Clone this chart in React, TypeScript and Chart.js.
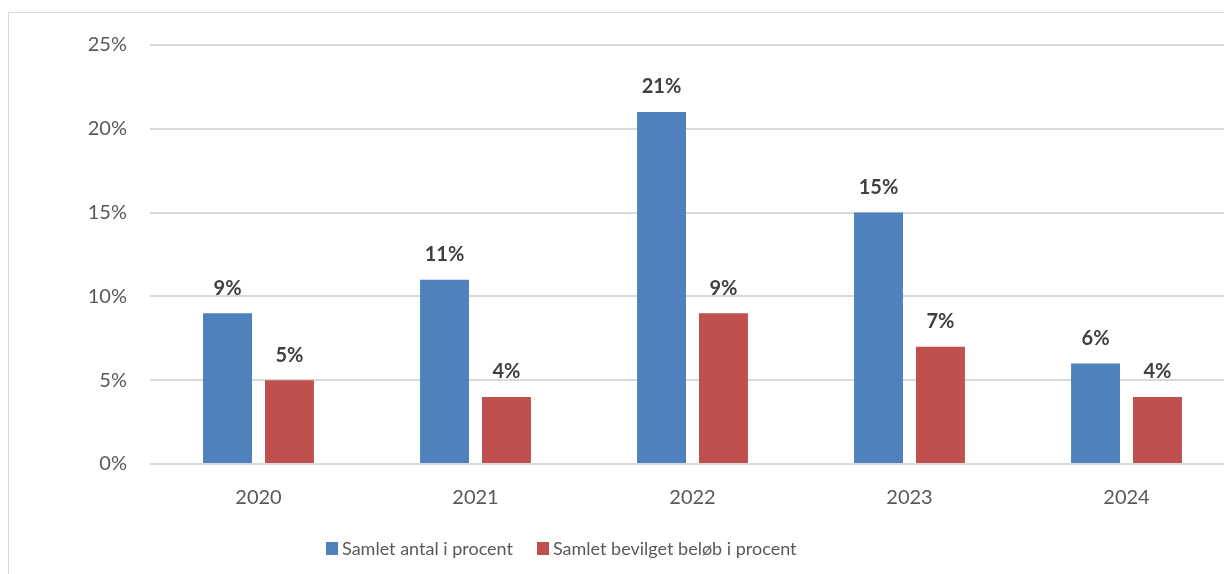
import React, { useEffect, useRef } from "react";
import { Chart, registerables } from "chart.js";

Chart.register(...registerables);

const categories = ["2020", "2021", "2022", "2023", "2024"];
const seriesNames = ["Samlet antal i procent", "Samlet bevilget beløb i procent"];
const antalPct = [9, 11, 21, 15, 6];
const belobPct = [5, 4, 9, 7, 4];
const yTicks = [0, 5, 10, 15, 20, 25];
const seriesColors = ["#4F81BD", "#C0504D"];

const FONT = "Lato, 'Open Sans', sans-serif";
const TEXT = "#595959";

const labelPlugin = {
  id: "barLabels",
  afterDatasetsDraw(chart: any) {
    const ctx = chart.ctx;
    ctx.save();
    ctx.font = `bold 20px ${FONT}`;
    ctx.fillStyle = "#404040";
    ctx.textAlign = "center";
    ctx.textBaseline = "middle";
    chart.data.datasets.forEach((ds: any, i: number) => {
      chart.getDatasetMeta(i).data.forEach((el: any, j: number) => {
        ctx.fillText(`${ds.data[j]}%`, el.x, el.y - 25);
      });
    });
    ctx.restore();
  },
};

export default function App() {
  const ref = useRef<HTMLCanvasElement>(null);

  useEffect(() => {
    if (!ref.current) return;
    const chart = new Chart(ref.current, {
      type: "bar",
      data: {
        labels: categories,
        datasets: [
          { label: seriesNames[0], data: antalPct, backgroundColor: seriesColors[0] },
          { label: seriesNames[1], data: belobPct, backgroundColor: seriesColors[1] },
        ],
      },
      options: {
        responsive: false,
        animation: false,
        layout: { padding: { top: 45, right: 5, left: 0, bottom: 0 } },
        datasets: {
          bar: { categoryPercentage: 0.571, barPercentage: 0.79 },
        },
        plugins: {
          legend: { display: false },
          tooltip: { enabled: false },
        },
        scales: {
          x: {
            grid: { display: false },
            border: { display: false },
            ticks: { color: TEXT, font: { family: FONT, size: 20 }, padding: 14 },
            afterFit: (s: any) => {
              s.height = 574 - 464;
            },
          },
          y: {
            min: yTicks[0],
            max: yTicks[yTicks.length - 1],
            grid: { color: "#d9d9d9", lineWidth: 2, drawTicks: false },
            border: { display: false },
            ticks: {
              stepSize: 5,
              color: TEXT,
              font: { family: FONT, size: 20 },
              padding: 23,
              callback: (v: any) => `${v}%`,
            },
            afterFit: (s: any) => {
              s.width = 150;
            },
          },
        },
      },
      plugins: [labelPlugin],
    });
    return () => chart.destroy();
  }, []);

  return (
    <div
      style={{
        position: "fixed",
        left: 0,
        top: 0,
        width: 1224,
        height: 574,
        overflow: "hidden",
        background: "#fff",
      }}
    >
      <div
        style={{
          position: "absolute",
          left: 8,
          top: 12,
          width: 1400,
          height: 700,
          border: "1px solid #d9d9d9",
        }}
      />
      <canvas
        ref={ref}
        width={1240}
        height={574}
        style={{ position: "absolute", left: 0, top: 0, display: "block" }}
      />
      <div
        style={{
          position: "absolute",
          left: 326,
          top: 536,
          display: "flex",
          alignItems: "center",
          fontFamily: FONT,
          fontSize: 18,
          color: TEXT,
          whiteSpace: "nowrap",
          lineHeight: "24px",
        }}
      >
        {seriesNames.map((n, i) => (
          <div key={n} style={{ display: "flex", alignItems: "center", marginRight: i === 0 ? 24 : 0 }}>
            <span style={{ width: 12, height: 13, background: seriesColors[i], marginRight: 4, display: "inline-block" }} />
            <span>{n}</span>
          </div>
        ))}
      </div>
    </div>
  );
}
